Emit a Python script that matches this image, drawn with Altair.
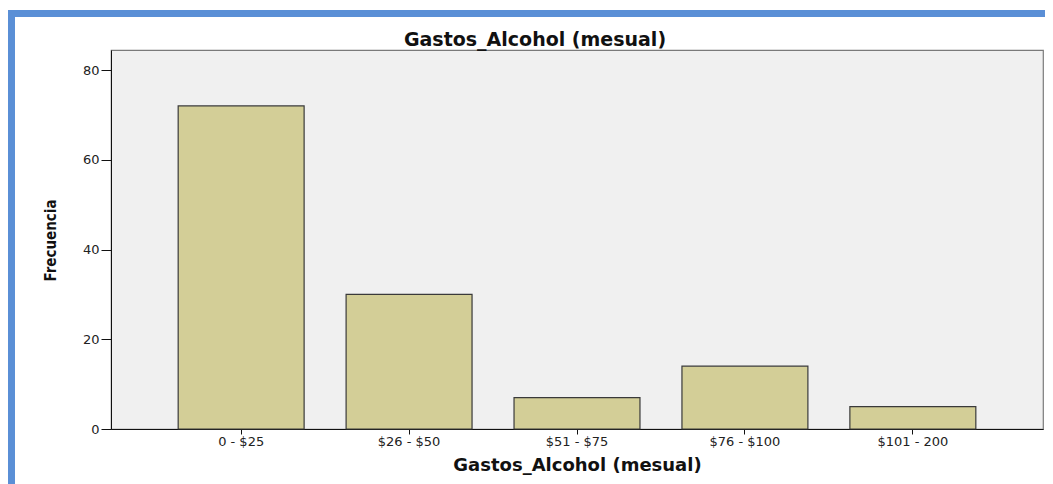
import altair as alt
import pandas as pd

categories = ["0 - $25", "$26 - $50", "$51 - $75", "$76 - $100", "$101 - 200"]
frecuencia = [72, 30, 7, 14, 5]
y_ticks = [0, 20, 40, 60, 80]
chart_title = ["Gastos_Alcohol (mesual)"]

df = pd.DataFrame({"cat": categories, "freq": frecuencia})
one = pd.DataFrame({"k": [0]})
tdf = pd.DataFrame({"t": chart_title})

W, H = 932, 379
SANS = "DejaVu Sans"

bars = alt.Chart(df).mark_bar(
    fill="#D3CE97", stroke="#3A3A3A", strokeWidth=1.2
).encode(
    x=alt.X("cat:N", sort=categories,
            scale=alt.Scale(paddingInner=0.25, paddingOuter=0.4),
            axis=alt.Axis(title="Gastos_Alcohol (mesual)", labelAngle=0,
                          labelFont=SANS, labelFontSize=13, labelColor="#222",
                          labelPadding=1, tickSize=5, tickColor="#111",
                          domainColor="#111", titleFont=SANS, titleFontSize=18,
                          titleFontWeight="bold", titleColor="#111",
                          titleY=36, titleBaseline="middle")),
    y=alt.Y("freq:Q", scale=alt.Scale(domain=[0, 84.46], nice=False, zero=True),
            axis=alt.Axis(title="Frecuencia", values=y_ticks, grid=False,
                          labelFont=SANS, labelFontSize=13, labelColor="#222",
                          labelPadding=2, tickSize=10, tickColor="#111",
                          domainColor="#111",
                          titleFont="Liberation Sans Narrow, Arial Narrow, DejaVu Sans Condensed",
                          titleFontSize=15, titleFontWeight="bold", titleColor="#111",
                          titleAngle=-90, titleX=-61, titleY=190,
                          titleAlign="center", titleBaseline="middle")),
)

title_mark = alt.Chart(tdf).mark_text(
    font=SANS, fontSize=19, fontWeight="bold", color="#111",
    align="center", baseline="middle"
).encode(text="t:N", x=alt.value(424), y=alt.value(-10))

blue = "#5A8FD6"
top_band = alt.Chart(one).mark_rule(color=blue, strokeWidth=7).encode(
    x=alt.value(-110), x2=alt.value(W + 30), y=alt.value(-36.5)
)
left_band = alt.Chart(one).mark_rule(color=blue, strokeWidth=8).encode(
    x=alt.value(-100), y=alt.value(-40), y2=alt.value(H + 100)
)

chart = alt.layer(bars, title_mark, top_band, left_band).properties(
    width=W, height=H,
    autosize=alt.AutoSizeParams(type="none"),
    padding={"left": 103, "top": 42, "right": 2, "bottom": 60},
    background="white",
).configure_view(fill="#F0F0F0", stroke="#7A7A7A", strokeWidth=1.2)

chart.save("out.html", embed_options={"renderer": "svg", "actions": False})
